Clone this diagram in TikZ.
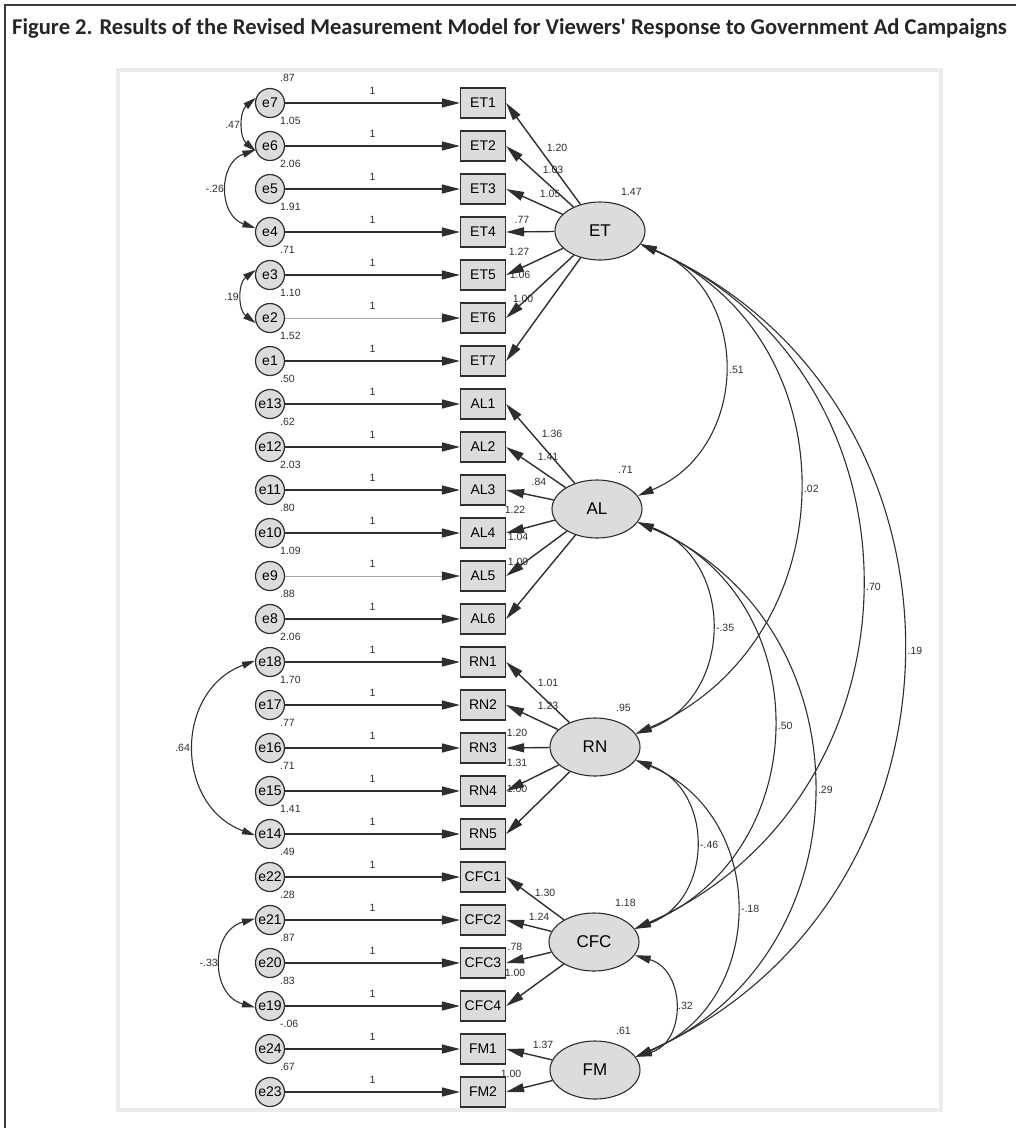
\documentclass[tikz,border=0pt]{standalone}
\usepackage{fontspec}
\setmainfont{Liberation Sans}
\newfontfamily\titelfont{Carlito}
\usetikzlibrary{arrows.meta,shapes.geometric}
\definecolor{amosgrau}{HTML}{DCDCDC}
\definecolor{linie}{HTML}{2E2E2E}
\definecolor{rahmen}{HTML}{3A3A3A}
\definecolor{panel}{HTML}{ECECEC}

\tikzset{
  fehler/.style={circle,draw=linie,fill=amosgrau,line width=1.2pt,minimum size=29pt,inner sep=0pt,font=\fontsize{14}{14}\selectfont},
  indikator/.style={rectangle,draw=linie,fill=amosgrau,line width=1.2pt,minimum width=45pt,minimum height=30pt,inner sep=0pt,font=\fontsize{14}{14}\selectfont},
  faktor/.style={ellipse,draw=linie,fill=amosgrau,line width=1.1pt,minimum width=90pt,minimum height=58pt,inner sep=0pt,font=\fontsize{17}{17}\selectfont},
  zahl/.style={inner sep=0pt,text=linie,font=\fontsize{10.5}{10.5}\selectfont},
  pfeil/.style={draw=linie,line width=1.4pt,-{Triangle[length=18pt,width=9pt]}},
  zartpfeil/.style={draw=black!35,line width=0.5pt,-{Triangle[length=18pt,width=9pt,color=linie]}},
  kovar/.style={draw=linie,line width=1.1pt,{Triangle[length=16pt,width=8pt]}-{Triangle[length=16pt,width=8pt]}},
  ekovar/.style={draw=linie,line width=1.1pt,{Triangle[length=13pt,width=7pt]}-{Triangle[length=13pt,width=7pt]}},
}

\begin{document}
\begin{tikzpicture}[x=1pt,y=-1pt]
  \useasboundingbox (0,0) rectangle (1016,1128);
  % frame and title
  \draw[rahmen,line width=2pt] (5,1128)--(5,5)--(1016,5);
  \node[anchor=base west,inner sep=0pt,text=black!85,font=\titelfont\bfseries\fontsize{22.6}{22.6}\selectfont] (titel) at (12,34)
    {Figure 2. Results of the Revised Measurement Model for Viewers' Response to Government Ad Campaigns};
  \draw[panel,line width=4pt] (118,70) rectangle (941,1110);

  % loadings (drawn first, the boxes cover them)
  \node[zahl] at (557,148) {1.20};
  \node[zahl] at (553,170) {1.03};
  \node[zahl] at (550,194) {1.05};
  \node[zahl] at (522,220) {.77};
  \node[zahl] at (519,252) {1.27};
  \node[zahl] at (520,275) {1.06};
  \node[zahl] at (523,299) {1.00};
  \node[zahl] at (552,434) {1.36};
  \node[zahl] at (548,457) {1.41};
  \node[zahl] at (539,482) {.84};
  \node[zahl] at (515,510) {1.22};
  \node[zahl] at (518,537) {1.04};
  \node[zahl] at (518,562) {1.00};
  \node[zahl] at (548,683) {1.01};
  \node[zahl] at (548,706) {1.23};
  \node[zahl] at (517,733) {1.20};
  \node[zahl] at (517,763) {1.31};
  \node[zahl] at (517,789) {1.00};
  \node[zahl] at (545,893) {1.30};
  \node[zahl] at (539,917) {1.24};
  \node[zahl] at (515,947) {.78};
  \node[zahl] at (515,973) {1.00};
  \node[zahl] at (543,1045) {1.37};
  \node[zahl] at (511,1074) {1.00};

  % errors and indicators
  \foreach \e/\v/\i/\n/\s in {
    e7/.87/ET1/0/pfeil, e6/1.05/ET2/1/pfeil, e5/2.06/ET3/2/pfeil, e4/1.91/ET4/3/pfeil,
    e3/.71/ET5/4/pfeil, e2/1.10/ET6/5/zartpfeil, e1/1.52/ET7/6/pfeil,
    e13/.50/AL1/7/pfeil, e12/.62/AL2/8/pfeil, e11/2.03/AL3/9/pfeil, e10/.80/AL4/10/pfeil,
    e9/1.09/AL5/11/zartpfeil, e8/.88/AL6/12/pfeil,
    e18/2.06/RN1/13/pfeil, e17/1.70/RN2/14/pfeil, e16/.77/RN3/15/pfeil, e15/.71/RN4/16/pfeil,
    e14/1.41/RN5/17/pfeil,
    e22/.49/CFC1/18/pfeil, e21/.28/CFC2/19/pfeil, e20/.87/CFC3/20/pfeil, e19/.83/CFC4/21/pfeil,
    e24/-.06/FM1/22/pfeil, e23/.67/FM2/23/pfeil}
  {
    \node[fehler] (\e) at (270,{103+43*\n}) {\e};
    \node[indikator] (\i) at (483,{103+43*\n}) {\i};
    \draw[\s] (\e) -- (\i) node[zahl,midway,above=8pt] {1};
    \node[zahl,anchor=west] at ([shift={(10,-25)}]\e.center) {\v};
  }

  % latent factors
  \node[faktor] (ET) at (600,231) {ET};
  \node[faktor] (AL) at (597,509) {AL};
  \node[faktor] (RN) at (595,747) {RN};
  \node[faktor] (CFC) at (594,942) {CFC};
  \node[faktor] (FM) at (595,1070) {FM};
  \node[zahl,anchor=west] at ([shift={(21,-39)}]ET.center) {1.47};
  \node[zahl,anchor=west] at ([shift={(21,-39)}]AL.center) {.71};
  \node[zahl,anchor=west] at ([shift={(21,-39)}]RN.center) {.95};
  \node[zahl,anchor=west] at ([shift={(21,-39)}]CFC.center) {1.18};
  \node[zahl,anchor=west] at ([shift={(21,-39)}]FM.center) {.61};

  \foreach \i in {1,...,7} \draw[pfeil] (ET) -- (ET\i.east);
  \foreach \i in {1,...,6} \draw[pfeil] (AL) -- (AL\i.east);
  \foreach \i in {1,...,5} \draw[pfeil] (RN) -- (RN\i.east);
  \foreach \i in {1,...,4} \draw[pfeil] (CFC) -- (CFC\i.east);
  \foreach \i in {1,2} \draw[pfeil] (FM) -- (FM\i.east);

  % error covariances
  \draw[ekovar] (e7.160) .. controls +(-16.5,13.8) and +(-16.5,-13.8) .. (e6.200) node[zahl,pos=.5,left=3pt] {.47};
  \draw[ekovar] (e6.195) .. controls +(-37.3,12.9) and +(-37.3,-12.9) .. (e4.165) node[zahl,pos=.5,left=3pt] {-.26};
  \draw[ekovar] (e3.160) .. controls +(-17.9,13.2) and +(-17.9,-13.2) .. (e2.200) node[zahl,pos=.5,left=3pt] {.19};
  \draw[ekovar] (e18.175) .. controls +(-80.7,30.2) and +(-80.7,-30.2) .. (e14.185) node[zahl,pos=.5,left=4pt] {.64};
  \draw[ekovar] (e21.175) .. controls +(-44.9,12.5) and +(-44.9,-12.5) .. (e19.185) node[zahl,pos=.5,left=3pt] {-.33};

  % factor covariances
  \draw[kovar] (ET.-18) .. controls +(112.4,46.3) and +(112.4,-46.3) .. (AL.18) node[zahl,pos=.5,right=5pt] {.51};
  \draw[kovar] (ET.-18) .. controls +(213.7,93.5) and +(213.7,-93.5) .. (RN.18) node[zahl,pos=.5,right=5pt] {.02};
  \draw[kovar] (ET.-18) .. controls +(297.2,131.8) and +(297.2,-131.8) .. (CFC.18) node[zahl,pos=.5,right=5pt] {.70};
  \draw[kovar] (ET.-18) .. controls +(351.8,156.6) and +(351.8,-156.6) .. (FM.18) node[zahl,pos=.5,right=5pt] {.19};
  \draw[kovar] (AL.-18) .. controls +(98.4,36.4) and +(98.4,-36.4) .. (RN.18) node[zahl,pos=.5,right=5pt] {-.35};
  \draw[kovar] (AL.-18) .. controls +(181.6,74.8) and +(181.6,-74.8) .. (CFC.18) node[zahl,pos=.5,right=5pt] {.50};
  \draw[kovar] (AL.-18) .. controls +(234.3,101.3) and +(234.3,-101.3) .. (FM.18) node[zahl,pos=.5,right=5pt] {.29};
  \draw[kovar] (RN.-18) .. controls +(79.1,28.6) and +(79.1,-28.6) .. (CFC.18) node[zahl,pos=.5,right=5pt] {-.46};
  \draw[kovar] (RN.-18) .. controls +(133.0,54.3) and +(133.0,-54.3) .. (FM.18) node[zahl,pos=.5,right=5pt] {-.18};
  \draw[kovar] (CFC.-18) .. controls +(51.1,14.8) and +(51.1,-14.8) .. (FM.18) node[zahl,pos=.5,right=4pt] {.32};
\end{tikzpicture}
\end{document}
